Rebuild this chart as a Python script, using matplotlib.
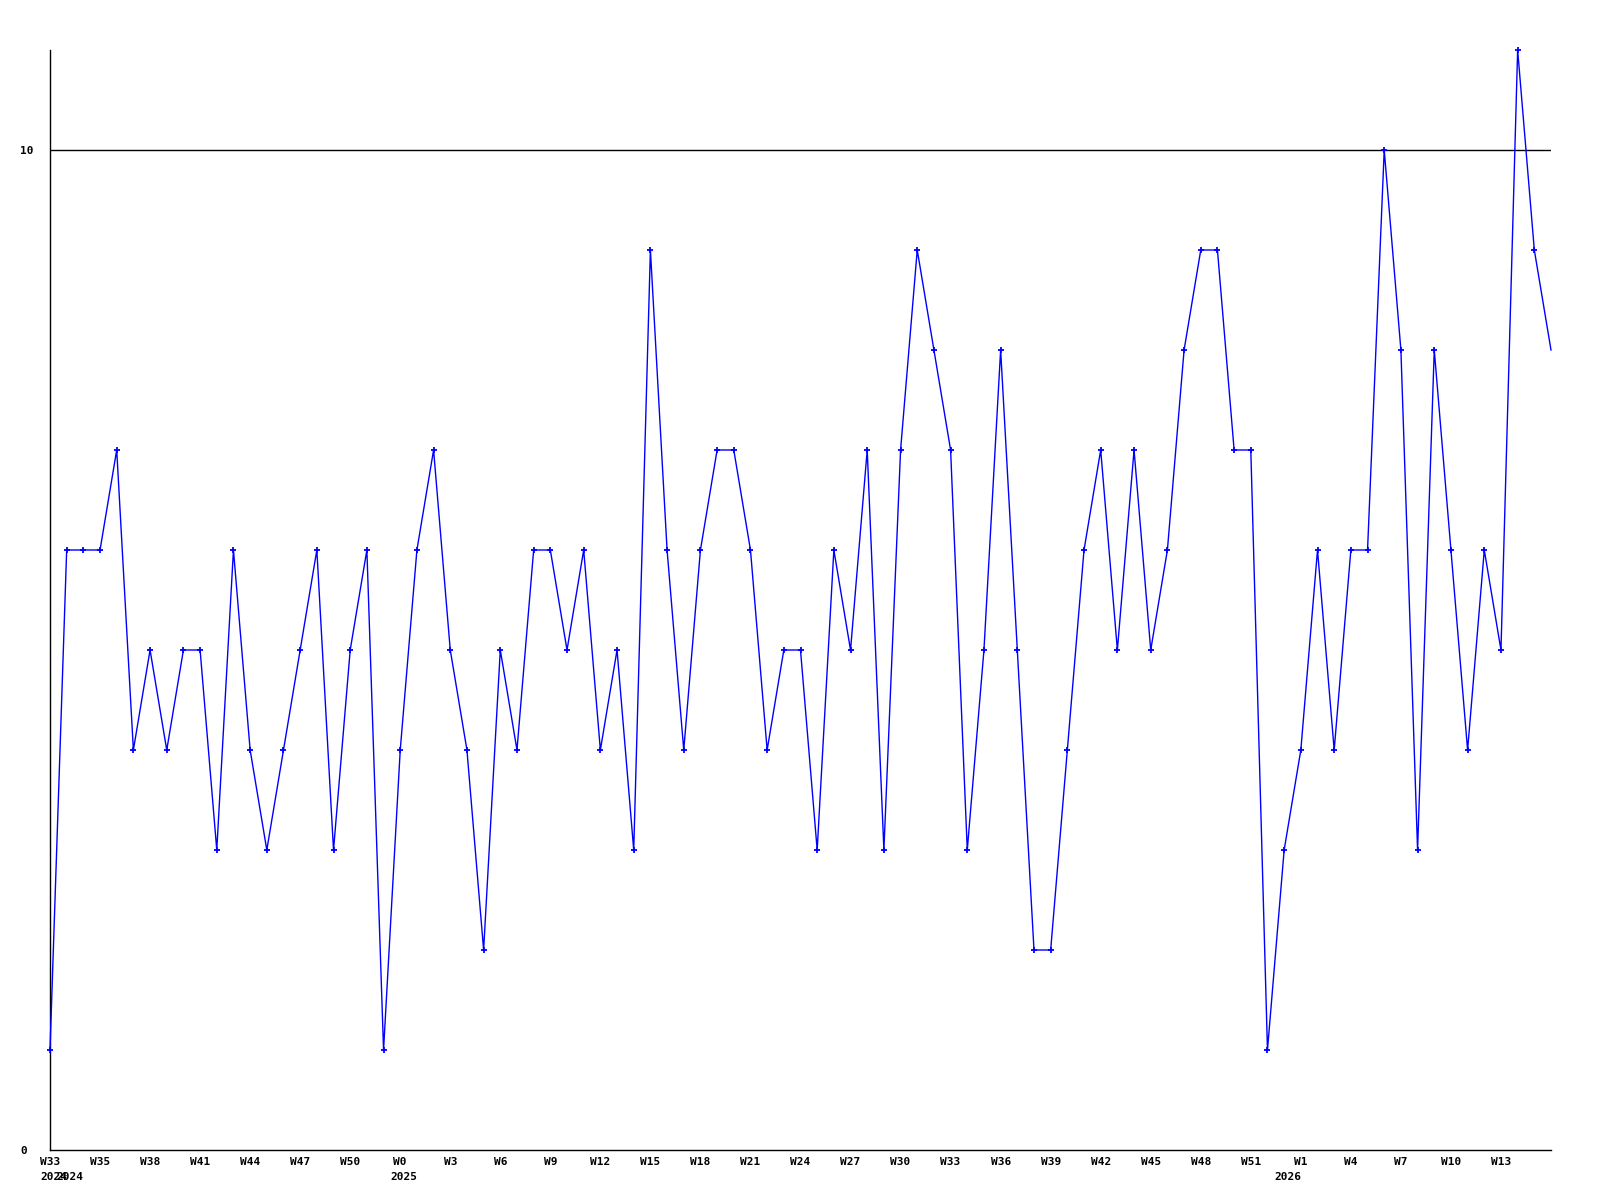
import matplotlib
matplotlib.use("Agg")
import matplotlib.pyplot as plt
import matplotlib.transforms as mtransforms

# weekly counts, W32 2024 .. W15 2026 (last point sits on the right edge)
values = [1, 6, 6, 6, 7, 4, 5, 4, 5, 5,
          3, 6, 4, 3, 4, 5, 6, 3, 5, 6,
          1, 4, 6, 7, 5, 4, 2, 5, 4, 6,
          6, 5, 6, 4, 5, 3, 9, 6, 4, 6,
          7, 7, 6, 4, 5, 5, 3, 6, 5, 7,
          3, 7, 9, 8, 7, 3, 5, 8, 5, 2,
          2, 4, 6, 7, 5, 7, 5, 6, 8, 9,
          9, 7, 7, 1, 3, 4, 6, 4, 6, 6,
          10, 8, 3, 8, 6, 4, 6, 5, 11, 9,
          8]
x = list(range(len(values)))

tick_pos = [0, 3, 6, 9, 12, 15, 18, 21, 24, 27, 30, 33, 36, 39, 42, 45, 48,
            51, 54, 57, 60, 63, 66, 69, 72, 75, 78, 81, 84, 87]
tick_labels = ["W33", "W35", "W38", "W41", "W44", "W47", "W50", "W0", "W3",
               "W6", "W9", "W12", "W15", "W18", "W21", "W24", "W27", "W30",
               "W33", "W36", "W39", "W42", "W45", "W48", "W51", "W1", "W4",
               "W7", "W10", "W13"]
year_pos = [0.25, 1.2, 21.2, 74.2]
year_labels = ["2024", "2024", "2025", "2026"]
ref_level = 10

fig = plt.figure(figsize=(16, 12), dpi=100)
ax = fig.add_axes([50/1600, 1 - 1150/1200, (1551 - 50)/1600, 1100/1200])

ax.plot(x, values, color="#0000ff", lw=1.0, marker="+", ms=4, mew=1.3,
        markevery=list(range(len(values) - 1)), clip_on=False, zorder=3)
ax.axhline(ref_level, color="black", lw=1.0, zorder=2)

ax.set_xlim(0, len(values) - 1)
ax.set_ylim(0, 11)
for s in ["top", "right"]:
    ax.spines[s].set_visible(False)
for s in ["left", "bottom"]:
    ax.spines[s].set_linewidth(1.0)
    ax.spines[s].set_color("black")

font = dict(family="DejaVu Sans Mono", weight="bold", size=8)
ax.set_yticks([0, 10])
ax.set_yticklabels(["0", "10"], **font)
for lbl in ax.get_yticklabels():
    lbl.set_horizontalalignment("left")
ax.tick_params(axis="y", length=0, pad=21.6)

ax.set_xticks(tick_pos)
ax.set_xticklabels(tick_labels, **font)
ax.tick_params(axis="x", length=0, pad=5)

trans = mtransforms.blended_transform_factory(ax.transData, fig.transFigure)
for p, t in zip(year_pos, year_labels):
    ax.text(p, 1 - 1177/1200, t, transform=trans, ha="center", va="center",
            **font)

fig.savefig("out.png", dpi=100)
